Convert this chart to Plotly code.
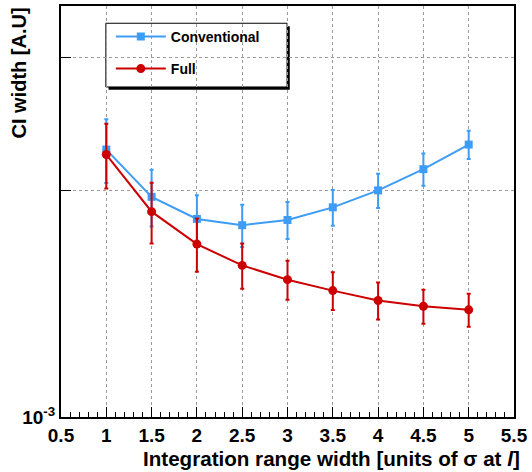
import plotly.graph_objects as go

# Integration range width (units of sigma at l)
range_width = [1.0, 1.5, 2.0, 2.5, 3.0, 3.5, 4.0, 4.5, 5.0]

# CI width for the conventional method and its uncertainty
conv_ci = [2.266e-3, 1.961e-3, 1.833e-3, 1.798e-3, 1.827e-3, 1.899e-3, 2.000e-3, 2.134e-3, 2.301e-3]
conv_err = [0.220e-3, 0.170e-3, 0.138e-3, 0.116e-3, 0.103e-3, 0.104e-3, 0.105e-3, 0.105e-3, 0.100e-3]

# CI width for the full method and its uncertainty
full_ci = [2.232e-3, 1.874e-3, 1.697e-3, 1.590e-3, 1.522e-3, 1.472e-3, 1.428e-3, 1.403e-3, 1.388e-3]
full_err = [0.220e-3, 0.174e-3, 0.138e-3, 0.110e-3, 0.091e-3, 0.085e-3, 0.081e-3, 0.073e-3, 0.070e-3]

x_ticks = [0.5, 1, 1.5, 2, 2.5, 3, 3.5, 4, 4.5, 5, 5.5]
x_ticktext = ["0.5", "1", "1.5", "2", "2.5", "3", "3.5", "4", "4.5", "5", "5.5"]
y_ticks = [1e-3]
y_ticktext = ["10<sup>-3</sup>"]
y_unlabeled_ticks = [2e-3, 3e-3]

BLUE = "#3d9cf5"
RED = "#cc0000"
FONT = "Liberation Sans, Arial, sans-serif"
GRID = "#9a9a9a"

fig = go.Figure()
fig.add_trace(go.Scatter(
    x=range_width, y=conv_ci, name="<b>Conventional</b>", legendgroup="a",
    mode="lines+markers",
    line=dict(color=BLUE, width=2),
    marker=dict(symbol="square", size=8, color=BLUE),
    error_y=dict(type="data", array=conv_err, color=BLUE, thickness=2, width=2),
))
fig.add_trace(go.Scatter(
    x=range_width, y=full_ci, name="<b>Full</b>", legendgroup="b",
    mode="lines+markers",
    line=dict(color=RED, width=2),
    marker=dict(symbol="circle", size=9, color=RED),
    error_y=dict(type="data", array=full_err, color=RED, thickness=2, width=2),
))

# legend box with drop shadow
fig.add_shape(type="rect", xref="paper", yref="paper",
              x0=0.105, x1=0.505, y0=0.796, y1=0.951,
              fillcolor="black", line=dict(width=0), layer="below")
fig.add_shape(type="rect", xref="paper", yref="paper",
              x0=0.099, x1=0.499, y0=0.803, y1=0.958,
              fillcolor="white", line=dict(color="black", width=1), layer="below")

fig.add_annotation(text="<b>Integration range width [units of σ at <i>l</i>]</b>",
                   xref="paper", yref="paper", x=1, y=0, xanchor="right", yanchor="middle",
                   xshift=8, yshift=-41, showarrow=False,
                   font=dict(family=FONT, size=20.6, color="black"))
fig.add_annotation(text="<b>CI width [A.U]</b>", textangle=-90,
                   xref="paper", yref="paper", x=0, y=1, xanchor="center", yanchor="top",
                   xshift=-43, yshift=0, showarrow=False,
                   font=dict(family=FONT, size=20, color="black"))

fig.update_layout(
    width=532, height=472,
    margin=dict(l=61, r=15, t=4, b=55),
    paper_bgcolor="white", plot_bgcolor="white",
    font=dict(family=FONT, size=16, color="black"),
    showlegend=True,
    legend=dict(x=0.11, y=0.964, xanchor="left", yanchor="top",
                bgcolor="rgba(0,0,0,0)", borderwidth=0, itemwidth=50,
                tracegroupgap=11, font=dict(size=14, family=FONT)),
    xaxis=dict(
        range=[0.5, 5.5], tickmode="array", tickvals=x_ticks, ticktext=x_ticktext,
        ticks="inside", ticklen=10, tickwidth=1, tickcolor="black",
        tickfont=dict(family=FONT, size=19, color="black", weight="bold"),
        showline=True, mirror=True, linecolor="black", linewidth=2,
        showgrid=True, gridcolor=GRID, griddash="dot", gridwidth=1,
        zeroline=False,
        minor=dict(tick0=0.5, dtick=0.1, ticks="inside", ticklen=5,
                   tickcolor="black", tickwidth=1, showgrid=False),
    ),
    yaxis=dict(
        type="log", range=[-3, -2.454], tickmode="array",
        tickvals=y_ticks, ticktext=y_ticktext,
        ticks="inside", ticklen=10, tickwidth=1, tickcolor="black",
        tickfont=dict(family=FONT, size=19, color="black", weight="bold"),
        showline=True, mirror=True, linecolor="black", linewidth=2,
        showgrid=False, zeroline=False,
        minor=dict(tickmode="array", tickvals=y_unlabeled_ticks, ticks="inside",
                   ticklen=10, tickwidth=1, tickcolor="black",
                   showgrid=True, gridcolor=GRID, griddash="dot", gridwidth=1),
    ),
)

fig.write_html("out.html")
